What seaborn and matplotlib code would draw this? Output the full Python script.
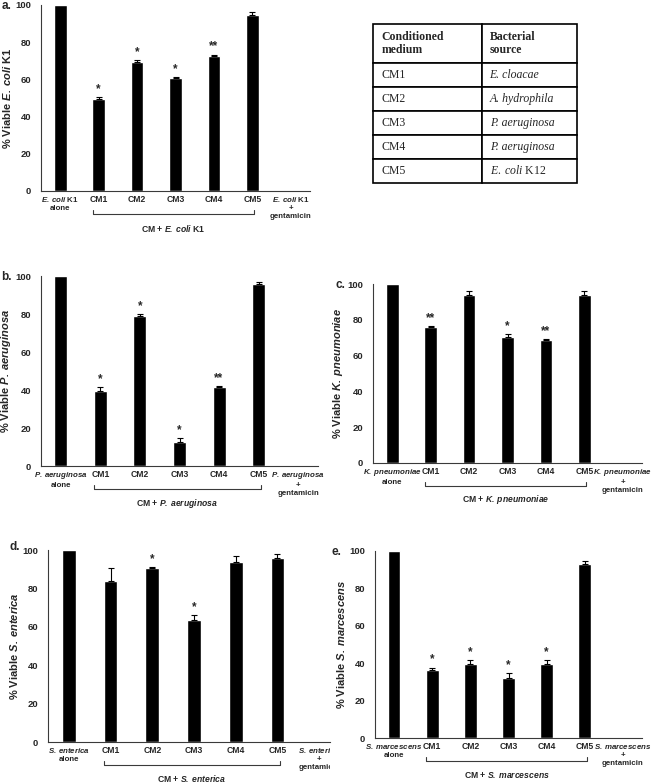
import numpy as np
import matplotlib
matplotlib.use("Agg")
import matplotlib.pyplot as plt
import matplotlib.transforms as mtransforms
from matplotlib import font_manager
import seaborn as sns

# Data
categories = ["alone", "CM1", "CM2", "CM3", "CM4", "CM5", "gentamicin"]
cm_labels = ["CM1", "CM2", "CM3", "CM4", "CM5"]

ecoli_vals = [100, 49.5, 69.5, 60.5, 72.8, 94.5, 0]
ecoli_err = [0, 1.0, 0.7, 0.6, 0.5, 1.5, 0]
ecoli_sig = ["", "*", "*", "*", "**", "", ""]

paer_vals = [100, 39.5, 79.0, 12.5, 41.5, 96.0, 0]
paer_err = [0, 2.0, 0.8, 2.0, 0.5, 1.0, 0]
paer_sig = ["", "*", "*", "*", "**", "", ""]

kpn_vals = [100, 76.0, 94.0, 70.5, 68.5, 94.0, 0]
kpn_err = [0, 0.3, 2.0, 1.5, 0.5, 2.0, 0]
kpn_sig = ["", "**", "", "*", "**", "", ""]

sent_vals = [100, 84.0, 90.5, 63.5, 93.5, 96.0, 0]
sent_err = [0, 6.5, 0.4, 2.5, 3.5, 2.0, 0]
sent_sig = ["", "", "*", "*", "", "", ""]

smar_vals = [100, 36.5, 39.5, 32.0, 39.5, 93.0, 0]
smar_err = [0, 1.2, 2.0, 2.5, 2.0, 1.5, 0]
smar_sig = ["", "*", "*", "*", "*", "", ""]

table_media = ["CM1", "CM2", "CM3", "CM4", "CM5"]
table_sources = ["E. cloacae", "A. hydrophila", "P. aeruginosa", "P. aeruginosa", r"$\mathit{E.\;coli}$ K12"]

# the original uses a condensed bold sans for ticks; use Narrow if present
names = {f.name for f in font_manager.fontManager.ttflist}
if "Liberation Sans Narrow" in names:
    NARROW, TICK_FS = "Liberation Sans Narrow", 7.2
else:
    NARROW, TICK_FS = "Liberation Sans", 6.2

sns.set_theme(style="white")
plt.rcParams["font.family"] = ["Liberation Sans", "DejaVu Sans"]
plt.rcParams["mathtext.fontset"] = "custom"
plt.rcParams["mathtext.bf"] = "Liberation Sans:bold"
plt.rcParams["mathtext.bfit"] = NARROW + ":bold:italic"
plt.rcParams["mathtext.sf"] = "Liberation Sans:bold:italic"
plt.rcParams["mathtext.rm"] = "Liberation Serif"
plt.rcParams["mathtext.it"] = "Liberation Serif:italic"

W, H = 658, 784
fig = plt.figure(figsize=(W / 100, H / 100), dpi=100)
AX_COL = "#3a3a3a"


def px_rect(left, top, right, bottom):
    return [left / W, 1 - bottom / H, (right - left) / W, (bottom - top) / H]


def panel(rect, letter, letter_xy, sp, vals, errs, sig, xmax=6.5, clip_right=None):
    ax = fig.add_axes(px_rect(*rect))
    h_px = rect[3] - rect[1]
    sp_tick = r"$\mathbfit{" + sp[0] + "}$" + sp[1]
    sp_lab = r"$\mathsf{" + sp[0] + "}$" + sp[1]

    sns.barplot(x=categories, y=vals, color="black", width=0.33,
                saturation=1, errorbar=None, ax=ax)
    x = np.arange(len(vals))
    v = np.array(vals, dtype=float)
    e = np.array(errs, dtype=float)
    m = e > 0
    ax.errorbar(x[m], v[m], yerr=[np.zeros(m.sum()), e[m]], fmt="none",
                ecolor="black", elinewidth=0.8, capsize=2.5, capthick=0.8)
    for xi, vi, ei, s in zip(x, v, e, sig):
        if s:
            ax.annotate(s, (xi, vi + ei), xytext=(0, 1.5), textcoords="offset points",
                        ha="center", va="bottom", fontsize=8.5, fontweight="bold")
    ax.set_ylim(0, 100)
    ax.set_xlim(-0.5, xmax)
    ax.set_yticks(range(0, 101, 20))
    labels = [sp_tick + "\nalone"] + cm_labels + [sp_tick + "\n+\ngentamicin"]
    ax.set_xticks(x, labels)
    ax.tick_params(axis="x", length=0, labelsize=TICK_FS, pad=3)
    ax.tick_params(axis="y", length=0, labelsize=TICK_FS + 0.6, pad=7)
    xt = ax.get_xticklabels()
    for t in xt + ax.get_yticklabels():
        t.set_fontweight("bold")
        t.set_fontfamily([NARROW, "DejaVu Sans"])
        t.set_linespacing(1.2)
    # species names are long; keep them a touch smaller so they clear CM1/CM5
    xt[0].set_fontsize(TICK_FS - 0.5)
    xt[-1].set_fontsize(TICK_FS - 0.5)
    ax.set_xlabel("")
    ax.set_ylabel("% Viable " + sp_lab, fontsize=8, fontweight="bold", labelpad=2)
    sns.despine(ax=ax)
    for s in ["left", "bottom"]:
        ax.spines[s].set_color(AX_COL)
        ax.spines[s].set_linewidth(0.8)

    # bracket under CM1..CM5
    x0, x1 = 0.85, 5.05
    yl, yu = -23 / h_px, -19 / h_px
    ax.plot([x0, x0, x1, x1], [yu, yl, yl, yu], transform=ax.get_xaxis_transform(),
            color=AX_COL, lw=0.8, clip_on=False)
    ax.text((x0 + x1) / 2, -37 / h_px, "CM + " + sp_tick, transform=ax.get_xaxis_transform(),
            ha="center", va="center", fontsize=TICK_FS, fontweight="bold",
            family=[NARROW, "DejaVu Sans"], clip_on=False)

    fig.text(letter_xy[0] / W, 1 - letter_xy[1] / H, letter, ha="left", va="center",
             fontsize=8.5, fontweight="bold")

    if clip_right is not None:
        box = mtransforms.TransformedBbox(
            mtransforms.Bbox([[0, 0], [clip_right / W, 1]]), fig.transFigure)
        xt[-1].set_clip_on(True)
        xt[-1].set_clip_box(box)
    return ax


sp_a = (r"E.\;coli", " K1")
sp_b = (r"P.\;aeruginosa", "")
sp_c = (r"K.\;pneumoniae", "")
sp_d = (r"S.\;enterica", "")
sp_e = (r"S.\;marcescens", "")

panel((41, 5, 310, 191), "a.", (2, 6), sp_a, ecoli_vals, ecoli_err, ecoli_sig)
panel((41, 276, 318, 466), "b.", (1, 277), sp_b, paer_vals, paer_err, paer_sig)
panel((373, 284, 642, 463), "c.", (336, 285), sp_c, kpn_vals, kpn_err, kpn_sig)
panel((48, 550, 330, 742), "d.", (9, 547), sp_d, sent_vals, sent_err, sent_sig,
      xmax=6.26, clip_right=330)
panel((375, 551, 642, 738), "e.", (332, 552), sp_e, smar_vals, smar_err, smar_sig)

# table of conditioned media
tax = fig.add_axes(px_rect(373, 24, 577, 183))
tax.axis("off")
cells = [["Conditioned\nmedium", "Bacterial\nsource"]] + [
    [m, s] for m, s in zip(table_media, table_sources)]
tbl = tax.table(cellText=cells, colWidths=[109 / 204, 95 / 204], cellLoc="left",
                loc="center", bbox=[0, 0, 1, 1])
tbl.auto_set_font_size(False)
for (r, c), cell in tbl.get_celld().items():
    cell.set_height(39 / 159 if r == 0 else 24 / 159)
    cell.set_linewidth(1.2)
    cell.set_edgecolor("black")
    cell.PAD = 0.08
    t = cell.get_text()
    t.set_fontfamily(["Liberation Serif", "DejaVu Serif"])
    t.set_fontsize(8.5)
    if r == 0:
        t.set_fontweight("bold")
    elif c == 1 and not t.get_text().startswith("$"):
        t.set_fontstyle("italic")

fig.savefig("out.png", dpi=100)
